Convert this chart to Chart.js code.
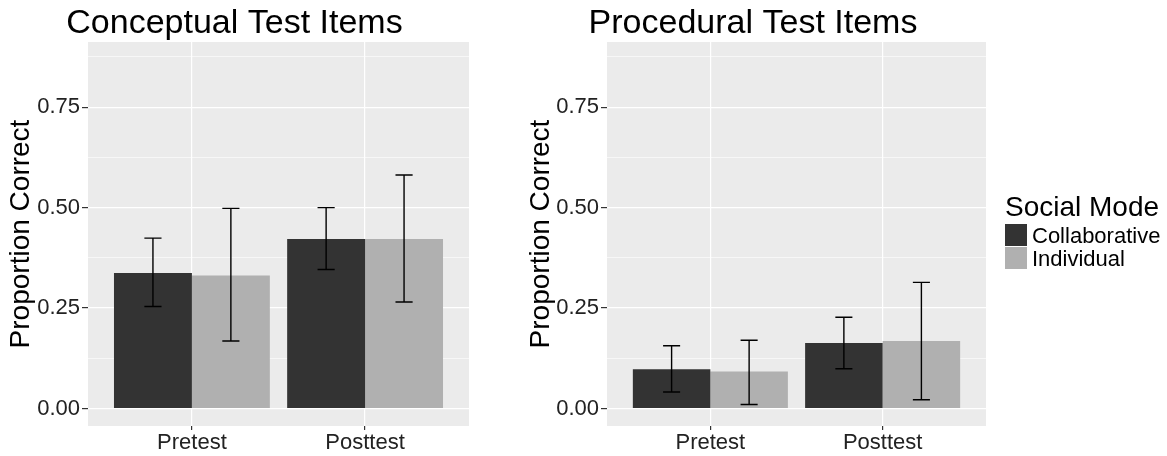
<!DOCTYPE html>
<html>
<head>
<meta charset="utf-8">
<script src="https://cdn.jsdelivr.net/npm/chart.js@4/dist/chart.umd.min.js"></script>
<style>
  body { margin: 0; background: #fff; width: 1167px; height: 456px; position: relative; overflow: hidden; }
  canvas { position: absolute; top: 0; }
  #c1 { left: 0; }
  #c2 { left: 520px; }
  .leg { position: absolute; font-family: 'Liberation Sans', Arial, sans-serif; color: #000; white-space: nowrap; z-index: 2; }
  .key { position: absolute; width: 22px; height: 22px; z-index: 2; }
</style>
</head>
<body>
<canvas id="c1" width="557" height="456"></canvas>
<canvas id="c2" width="553" height="456"></canvas>

<div class="leg" style="left:1005px; top:193px; font-size:28px; line-height:28px;">Social Mode</div>
<div class="key" style="left:1005px; top:224px; background:#333333;"></div>
<div class="key" style="left:1005px; top:247px; background:#B0B0B0;"></div>
<div class="leg" style="left:1032px; top:225px; font-size:22px; line-height:22px;">Collaborative</div>
<div class="leg" style="left:1032px; top:247.5px; font-size:22px; line-height:22px;">Individual</div>

<script>
// ---- data ----
var categories = ['Pretest', 'Posttest'];
var seriesNames = ['Collaborative', 'Individual'];
var seriesColors = ['#333333', '#B0B0B0'];

// Conceptual test items
var concCollab = [0.337, 0.422];
var concCollabLo = [0.254, 0.346];
var concCollabHi = [0.424, 0.500];
var concIndiv = [0.331, 0.422];
var concIndivLo = [0.168, 0.265];
var concIndivHi = [0.498, 0.581];

// Procedural test items
var procCollab = [0.098, 0.163];
var procCollabLo = [0.041, 0.099];
var procCollabHi = [0.156, 0.227];
var procIndiv = [0.092, 0.168];
var procIndivLo = [0.010, 0.022];
var procIndivHi = [0.170, 0.314];

var yTicks = [0, 0.125, 0.25, 0.375, 0.5, 0.625, 0.75, 0.875];
var yMajor = [0, 0.25, 0.5, 0.75];

Chart.defaults.font.family = "'Liberation Sans', Arial, sans-serif";
Chart.defaults.color = '#222';

function isMajor(v) {
  return yMajor.some(function (m) { return Math.abs(m - v) < 1e-6 });
}

// grey panel behind the plot area
var panelBg = {
  id: 'panelBg',
  beforeDraw: function (chart) {
    var a = chart.chartArea, ctx = chart.ctx;
    ctx.save();
    ctx.fillStyle = '#EBEBEB';
    ctx.fillRect(a.left, a.top, a.right - a.left, a.bottom - a.top);
    ctx.restore();
  }
};

// error bars, positioned through the chart scales
var errorBars = {
  id: 'errorBars',
  afterDatasetsDraw: function (chart) {
    var ctx = chart.ctx, y = chart.scales.y;
    ctx.save();
    ctx.strokeStyle = '#000';
    ctx.lineWidth = 1.4;
    chart.data.datasets.forEach(function (ds, i) {
      var meta = chart.getDatasetMeta(i);
      meta.data.forEach(function (bar, j) {
        var x = bar.x, hw = bar.width * 0.11;
        var top = y.getPixelForValue(ds.hi[j]);
        var bot = y.getPixelForValue(ds.lo[j]);
        ctx.beginPath();
        ctx.moveTo(x, top); ctx.lineTo(x, bot);
        ctx.moveTo(x - hw, top); ctx.lineTo(x + hw, top);
        ctx.moveTo(x - hw, bot); ctx.lineTo(x + hw, bot);
        ctx.stroke();
      });
    });
    ctx.restore();
  }
};

function makeChart(id, title, yAxisW, padRight, collab, collabLo, collabHi, indiv, indivLo, indivHi) {
  var ctx = document.getElementById(id).getContext('2d');
  return new Chart(ctx, {
    type: 'bar',
    data: {
      datasets: [
        {
          label: seriesNames[0],
          data: collab.map(function (v, i) { return { x: i + 1, y: v } }),
          lo: collabLo, hi: collabHi,
          backgroundColor: seriesColors[0],
          borderWidth: 0
        },
        {
          label: seriesNames[1],
          data: indiv.map(function (v, i) { return { x: i + 1, y: v } }),
          lo: indivLo, hi: indivHi,
          backgroundColor: seriesColors[1],
          borderWidth: 0
        }
      ]
    },
    options: {
      responsive: false,
      animation: false,
      devicePixelRatio: 1,
      layout: { padding: { left: 0, right: padRight, top: 0, bottom: 0 } },
      datasets: { bar: { categoryPercentage: 0.9, barPercentage: 1.0 } },
      plugins: {
        legend: { display: false },
        tooltip: { enabled: false },
        title: {
          display: true,
          text: title,
          color: '#000',
          font: { size: 34, weight: 'normal', lineHeight: 1.0 },
          padding: { top: 6.4, bottom: 1.6 }
        }
      },
      scales: {
        x: {
          type: 'linear',
          min: 0.4,
          max: 2.6,
          offset: false,
          afterBuildTicks: function (s) {
            s.ticks = categories.map(function (c, i) { return { value: i + 1 } });
          },
          afterFit: function (s) { s.height = 30; },
          ticks: {
            font: { size: 22 },
            color: '#222',
            padding: 0,
            maxRotation: 0,
            callback: function (v) { return categories[v - 1] }
          },
          grid: { offset: false, color: '#FFFFFF', lineWidth: 1.2, tickColor: '#333', tickLength: 4 },
          border: { display: false }
        },
        y: {
          min: -0.0435,
          max: 0.912,
          afterBuildTicks: function (s) {
            s.ticks = yTicks.map(function (v) { return { value: v } });
          },
          afterFit: function (s) { s.width = yAxisW; },
          ticks: {
            font: { size: 22 },
            color: '#222',
            padding: 2,
            callback: function (v) { return isMajor(v) ? v.toFixed(2) : '' }
          },
          grid: {
            color: '#FFFFFF',
            lineWidth: function (c) { return isMajor(c.tick.value) ? 1.2 : 0.6 },
            tickColor: function (c) { return isMajor(c.tick.value) ? '#333' : 'rgba(0,0,0,0)' },
            tickLength: 6
          },
          border: { display: false },
          title: {
            display: true,
            text: 'Proportion Correct',
            color: '#000',
            font: { size: 28 },
            padding: { top: 4, bottom: 0 }
          }
        }
      }
    },
    plugins: [panelBg, errorBars]
  });
}

makeChart('c1', 'Conceptual Test Items', 88, 88,
  concCollab, concCollabLo, concCollabHi, concIndiv, concIndivLo, concIndivHi);
makeChart('c2', 'Procedural Test Items', 87, 87,
  procCollab, procCollabLo, procCollabHi, procIndiv, procIndivLo, procIndivHi);
</script>
</body>
</html>
